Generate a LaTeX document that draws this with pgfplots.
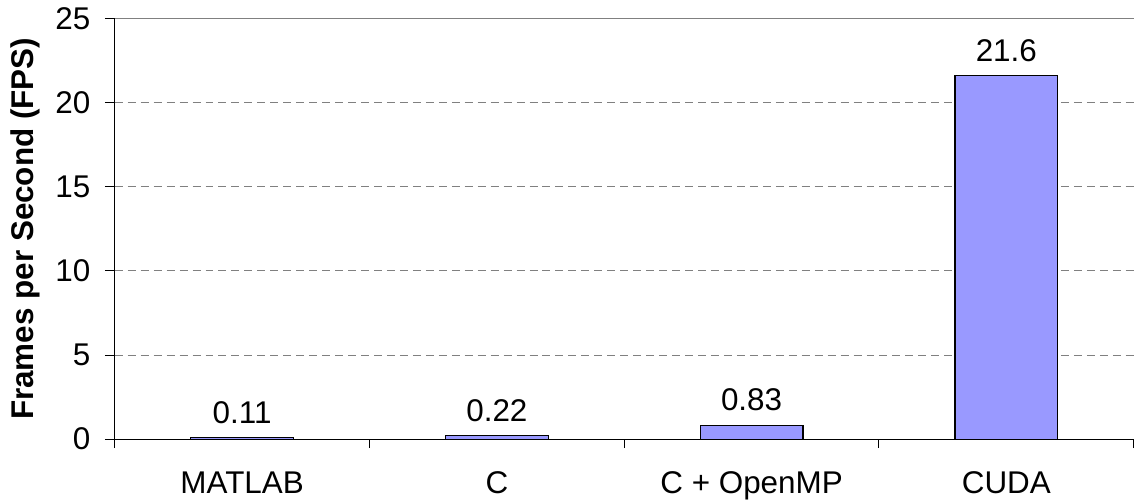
\documentclass[border=0pt]{standalone}
\usepackage{fontspec}
\setmainfont{Liberation Sans}
\usepackage{pgfplots}
\pgfplotsset{compat=1.18}
\definecolor{barblue}{HTML}{9999FF}
\begin{document}
\begin{tikzpicture}[font=\fontsize{31.5}{38}\selectfont]
\begin{axis}[
  scale only axis, width=1022pt, height=422pt,
  xmin=-0.5, xmax=3.5, ymin=0, ymax=25,
  ybar, bar width=103pt,
  axis x line*=bottom, axis y line*=left,
  axis line style={black, line width=1pt, -},
  tick align=outside,
  /pgf/number format/assume math mode=true,
  xtick={0,1,2,3}, xticklabels={MATLAB, C, C + OpenMP, CUDA},
  major x tick style={draw=none},
  extra x ticks={-0.5,0.5,1.5,2.5,3.5}, extra x tick labels={},
  extra x tick style={grid=none, major tick length=9pt, major x tick style={draw=black, line width=1pt}},
  xticklabel style={anchor=north, yshift=-19pt},
  ytick={0,5,10,15,20},
  extra y ticks={25},
  extra y tick style={grid=major, major grid style={gray, solid, line width=1.5pt}},
  major tick length=10pt,
  ytick style={black, line width=1pt},
  yticklabel style={xshift=-11pt},
  ymajorgrids=true,
  major grid style={gray, line width=0.8pt, dash pattern=on 8pt off 5pt},
  ylabel={\bfseries Frames per Second (FPS)},
  ylabel style={yshift=-11pt},
  nodes near coords,
  point meta=explicit symbolic,
  nodes near coords style={black, anchor=south, yshift=10pt},
]
\addplot[fill=barblue, draw=black, line width=1.3pt] coordinates {(0,0.11)[0.11] (1,0.22)[0.22] (2,0.83)[0.83] (3,21.6)[21.6]};
\end{axis}
\path ([xshift=-7pt,yshift=4pt]current bounding box.north west) -- (current bounding box.south east);
\end{tikzpicture}
\end{document}
